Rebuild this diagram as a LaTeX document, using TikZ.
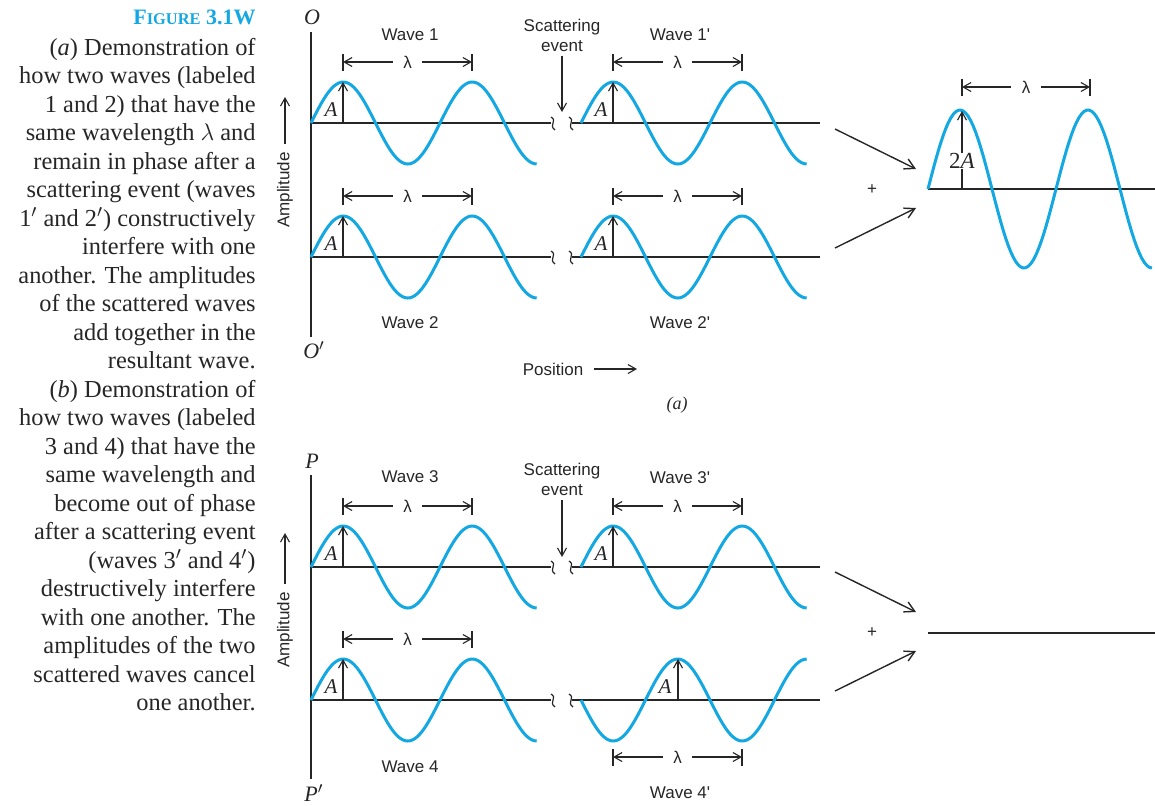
\documentclass[tikz,border=0pt]{standalone}
\usepackage{fontspec}
\setmainfont{Liberation Serif}
\setsansfont{Liberation Sans}
\newfontfamily\labelsans{Liberation Sans}
\usetikzlibrary{arrows.meta,positioning}
\definecolor{wavecyan}{RGB}{20,168,226}
\begin{document}
\begin{tikzpicture}[x=0.5pt, y=-0.5pt,
    wave/.style={draw=wavecyan, line width=1.5pt},
    axisline/.style={draw=black!85, line width=0.8pt},
    breakmark/.style={draw=black!85, line width=0.6pt},
    dimline/.style={draw=black!85, line width=0.55pt},
    thinarrow/.style={draw=black!85, line width=0.55pt, -{Straight Barb[length=4pt,width=4.5pt]}},
    bigarrow/.style={draw=black!85, line width=0.7pt, -{Straight Barb[length=5pt,width=5.5pt]}},
    lbl/.style={font=\labelsans\fontsize{8.5}{10}\selectfont, text=black!85, inner sep=1pt, align=center},
    lam/.style={font=\labelsans\fontsize{8.5}{10}\selectfont, text=black!85, inner xsep=5pt, inner ysep=1pt},
    amp/.style={font=\itshape\fontsize{10.5}{11}\selectfont, text=black!85, inner sep=0pt},
    axislbl/.style={font=\itshape\fontsize{11}{11}\selectfont, text=black!85, inner sep=0pt},
    captext/.style={font=\fontsize{12.2}{14}\selectfont, text=black!85, inner sep=0pt, anchor=base east},
    figtitle/.style={font=\bfseries\fontsize{11}{11}\selectfont, text=wavecyan, inner sep=0pt, anchor=base east}]
  \useasboundingbox (0,0) rectangle (1155,805);
  % Caption column, right aligned
  \node[figtitle] (fig) at (256,24) {F{\fontsize{8.2}{8}\selectfont IGURE} 3.1W};
  \foreach \t [count=\k] in {{(\textit{a}) Demonstration of}, {how two waves (labeled},
      {1 and 2) that have the}, {same wavelength $\lambda$ and}, {remain in phase after a},
      {scattering event (waves}, {1$'$ and 2$'$) constructively}, {interfere with one},
      {another. The amplitudes}, {of the scattered waves}, {add together in the},
      {resultant wave.}, {(\textit{b}) Demonstration of}, {how two waves (labeled},
      {3 and 4) that have the}, {same wavelength and}, {become out of phase},
      {after a scattering event}, {(waves 3$'$ and 4$'$)}, {destructively interfere},
      {with one another. The}, {amplitudes of the two}, {scattered waves cancel},
      {one another.}} {
    \node[captext] (cap\k) at (256,{55+28.52*(\k-1)}) {\t};
  }
  % Vertical axes O-O' and P-P'
  \draw[axisline] (311,32) -- (311,337);
  \node[axislbl] (o) at (312,17) {O};
  \node[axislbl] (o') at (314,350) {O$'$};
  \draw[axisline] (311,475) -- (311,779);
  \node[axislbl] (p) at (312,461) {P};
  \node[axislbl] (p') at (314,793) {P$'$};
  % Amplitude labels
  \node[lbl, rotate=90] (ampa) at (285,190) {Amplitude};
  \coordinate (ampatip) at (285,97);
  \draw[thinarrow, shorten <=3pt] (ampa.east) -- (ampatip);
  \node[lbl, rotate=90] (ampb) at (285,630) {Amplitude};
  \coordinate (ampbtip) at (285,533);
  \draw[thinarrow, shorten <=3pt] (ampb.east) -- (ampbtip);
  % Baselines with break marks
  \foreach \yb in {123,257,567,700} {
    \draw[axisline] (311,\yb) -- (551,\yb);
    \draw[breakmark] (551,\yb-6) .. controls (558,\yb-2) and (548,\yb+2) .. (555,\yb+7);
    \draw[breakmark] (569,\yb-6) .. controls (576,\yb-2) and (566,\yb+2) .. (573,\yb+7);
    \draw[axisline] (572,\yb) -- (820,\yb);
  }
  % Waves 1-4 (before scattering)
  \foreach \yb [count=\i] in {123,257,567,700} {
    \draw[wave] plot[domain=0:1.75, samples=90] ({311+129*\x}, {\yb-41*sin(360*\x)});
    \coordinate (lb\i) at (343,\yb);
    \coordinate (lp\i) at (343,\yb-41);
    \draw[thinarrow] (lb\i) -- (lp\i);
    \node[amp] (la\i) at (331,\yb-13) {A};
    \node[lam] (ll\i) at (407.5,\yb-61) {λ};
    \coordinate (lt\i) at (343,\yb-61);
    \coordinate (lu\i) at (472,\yb-61);
    \draw[dimline] (343,\yb-69) -- (343,\yb-52) (472,\yb-69) -- (472,\yb-52);
    \draw[thinarrow] (ll\i) -- (lt\i);
    \draw[thinarrow] (ll\i) -- (lu\i);
  }
  % Waves 1'-3' (in phase after scattering)
  \foreach \yb [count=\i] in {123,257,567} {
    \draw[wave] plot[domain=0:1.75, samples=90] ({581+129*\x}, {\yb-41*sin(360*\x)});
    \coordinate (rb\i) at (613,\yb);
    \coordinate (rp\i) at (613,\yb-41);
    \draw[thinarrow] (rb\i) -- (rp\i);
    \node[amp] (ra\i) at (601,\yb-13) {A};
    \node[lam] (rl\i) at (677.5,\yb-61) {λ};
    \coordinate (rt\i) at (613,\yb-61);
    \coordinate (ru\i) at (742,\yb-61);
    \draw[dimline] (613,\yb-69) -- (613,\yb-52) (742,\yb-69) -- (742,\yb-52);
    \draw[thinarrow] (rl\i) -- (rt\i);
    \draw[thinarrow] (rl\i) -- (ru\i);
  }
  % Wave 4' (out of phase)
  \draw[wave] plot[domain=0:1.75, samples=90] ({581+129*\x}, {700+41*sin(360*\x)});
  \coordinate (rb4) at (678,700);
  \coordinate (rp4) at (678,659);
  \draw[thinarrow] (rb4) -- (rp4);
  \node[amp] (ra4) at (665,687) {A};
  \node[lam] (rl4) at (677.5,757) {λ};
  \coordinate (rt4) at (613,757);
  \coordinate (ru4) at (742,757);
  \draw[dimline] (613,749) -- (613,766) (742,749) -- (742,766);
  \draw[thinarrow] (rl4) -- (rt4);
  \draw[thinarrow] (rl4) -- (ru4);
  % Wave labels
  \node[lbl] (w1) at (410,35) {Wave 1};
  \node[lbl] (w1p) at (680,35) {Wave 1'};
  \node[lbl] (w2) at (410,323) {Wave 2};
  \node[lbl] (w2p) at (680,323) {Wave 2'};
  \node[lbl] (w3) at (410,477) {Wave 3};
  \node[lbl] (w3p) at (680,478) {Wave 3'};
  \node[lbl] (w4) at (410,767) {Wave 4};
  \node[lbl] (w4p) at (680,793) {Wave 4'};
  % Scattering event markers
  \node[lbl] (sca) at (562,35) {Scattering\\event};
  \coordinate (scatip) at (562,112);
  \draw[thinarrow, shorten <=1pt] (sca.south) -- (scatip);
  \node[lbl] (scb) at (562,479) {Scattering\\event};
  \coordinate (scbtip) at (562,557);
  \draw[thinarrow, shorten <=1pt] (scb.south) -- (scbtip);
  % Position axis label and panel tag
  \node[lbl] (pos) at (553,369) {Position};
  \coordinate (postip) at (637,369);
  \draw[thinarrow, shorten <=4pt] (pos.east) -- (postip);
  \node[amp, font=\itshape\fontsize{9}{10}\selectfont] (taga) at (677,405) {(a)};
  % Resultant of (a): constructive
  \coordinate (ca1) at (835,129);
  \coordinate (ca2) at (916,169);
  \coordinate (cb1) at (835,248);
  \coordinate (cb2) at (916,208);
  \draw[bigarrow] (ca1) -- (ca2);
  \draw[bigarrow] (cb1) -- (cb2);
  \node[lbl] (plusa) at (872,190) {+};
  \draw[axisline] (928,189) -- (1155,189);
  \draw[wave] plot[domain=0:1.75, samples=90] ({928+128*\x}, {189-79*sin(360*\x)});
  \node[amp, font=\itshape\fontsize{11.5}{12}\selectfont] (twoA) at (962,161) {{\upshape 2}A};
  \coordinate (tb) at (962,189);
  \coordinate (tp) at (962,111);
  \draw[dimline] (tb) -- (twoA.south);
  \draw[thinarrow] (twoA.north) -- (tp);
  \node[lam] (resl) at (1026,87) {λ};
  \coordinate (rest) at (962,87);
  \coordinate (resu) at (1090,87);
  \draw[dimline] (962,79) -- (962,96) (1090,79) -- (1090,96);
  \draw[thinarrow] (resl) -- (rest);
  \draw[thinarrow] (resl) -- (resu);
  % Resultant of (b): destructive
  \coordinate (da1) at (835,572);
  \coordinate (da2) at (916,612);
  \coordinate (db1) at (835,691);
  \coordinate (db2) at (916,651);
  \draw[bigarrow] (da1) -- (da2);
  \draw[bigarrow] (db1) -- (db2);
  \node[lbl] (plusb) at (872,633) {+};
  \draw[axisline] (928,633) -- (1155,633);
\end{tikzpicture}
\end{document}
